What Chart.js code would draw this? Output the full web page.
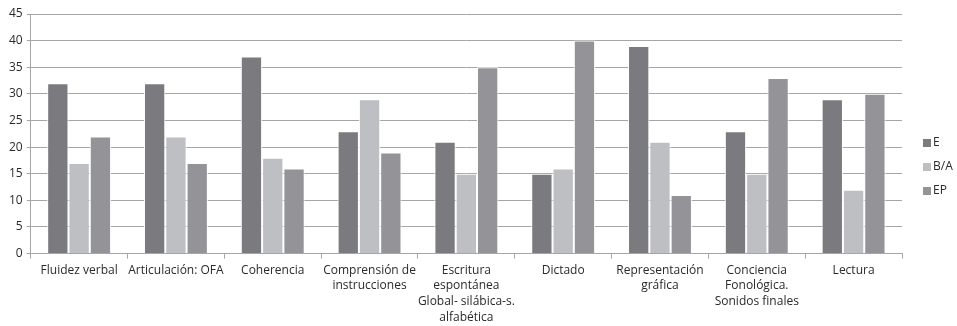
<!DOCTYPE html>
<html>
<head>
<meta charset="utf-8">
<script src="https://cdn.jsdelivr.net/npm/chart.js@4"></script>
<style>
  html, body { margin: 0; padding: 0; background: #fff; }
  #wrap { width: 957px; height: 326px; }
</style>
</head>
<body>
<div id="wrap"><canvas id="chart" width="957" height="326"></canvas></div>
<script>
'use strict';

// categorías del eje X (multilínea como en el original)
const CATEGORIES = [
  'Fluidez verbal',
  'Articulación: OFA',
  'Coherencia',
  ['Comprensión de', 'instrucciones'],
  ['Escritura', 'espontánea', 'Global- silábica-s.', 'alfabética'],
  'Dictado',
  ['Representación', 'gráfica'],
  ['Conciencia', 'Fonológica.', 'Sonidos finales'],
  'Lectura',
];

const SERIES_E  = [32, 32, 37, 23, 21, 15, 39, 23, 29];
const SERIES_BA = [17, 22, 18, 29, 15, 16, 21, 15, 12];
const SERIES_EP = [22, 17, 16, 19, 35, 40, 11, 33, 30];

const Y_MAX  = 45;
const Y_STEP = 5;

const FONT = '"Open Sans", "Noto Sans", sans-serif';
const TXT  = '#2a2a2a';
const GRID = '#a6a6a6';

function ds(label, data, color) {
  return {
    label, data,
    backgroundColor: color,
    borderColor: '#ffffff',
    borderWidth: 1,
    barPercentage: 1.0,
    categoryPercentage: 0.66,
  };
}

// leyenda pegada al borde derecho, como en el original (Excel)
const sideLegend = {
  id: 'sideLegend',
  afterDraw(chart) {
    const ctx = chart.ctx;
    const x = chart.chartArea.right + 21;
    const step = 24;
    const sets = chart.data.datasets;
    const y0 = chart.height / 2 + 4 - step * (sets.length - 1) / 2;
    ctx.save();
    ctx.font = '12px ' + FONT;
    ctx.textBaseline = 'middle';
    sets.forEach((d, i) => {
      const y = y0 + i * step;
      ctx.fillStyle = d.backgroundColor;
      ctx.fillRect(x, y - 4, 8, 8);
      ctx.fillStyle = TXT;
      ctx.fillText(d.label, x + 10, y);
    });
    ctx.restore();
  },
};

new Chart(document.getElementById('chart'), {
  type: 'bar',
  data: {
    labels: CATEGORIES,
    datasets: [
      ds('E',   SERIES_E,  '#7b7b7f'),
      ds('B/A', SERIES_BA, '#bebfc3'),
      ds('EP',  SERIES_EP, '#949498'),
    ],
  },
  plugins: [sideLegend],
  options: {
    responsive: false,
    animation: false,
    layout: { padding: { top: 14, right: 55, left: 5, bottom: -3 } },
    plugins: {
      tooltip: { enabled: false },
      legend: { display: false },
    },
    scales: {
      x: {
        offset: true,
        grid: {
          offset: true,
          drawOnChartArea: false,
          drawTicks: true,
          tickLength: 5,
          color: GRID,
        },
        border: { color: GRID },
        ticks: {
          color: TXT,
          padding: 4,
          maxRotation: 0,
          autoSkip: false,
          font: { family: FONT, size: 12, lineHeight: 1.3 },
        },
      },
      y: {
        min: 0,
        max: Y_MAX,
        grid: { color: GRID, tickLength: 4 },
        border: { color: GRID },
        ticks: {
          stepSize: Y_STEP,
          color: TXT,
          padding: 4,
          font: { family: FONT, size: 12 },
        },
      },
    },
  },
});
</script>
</body>
</html>
